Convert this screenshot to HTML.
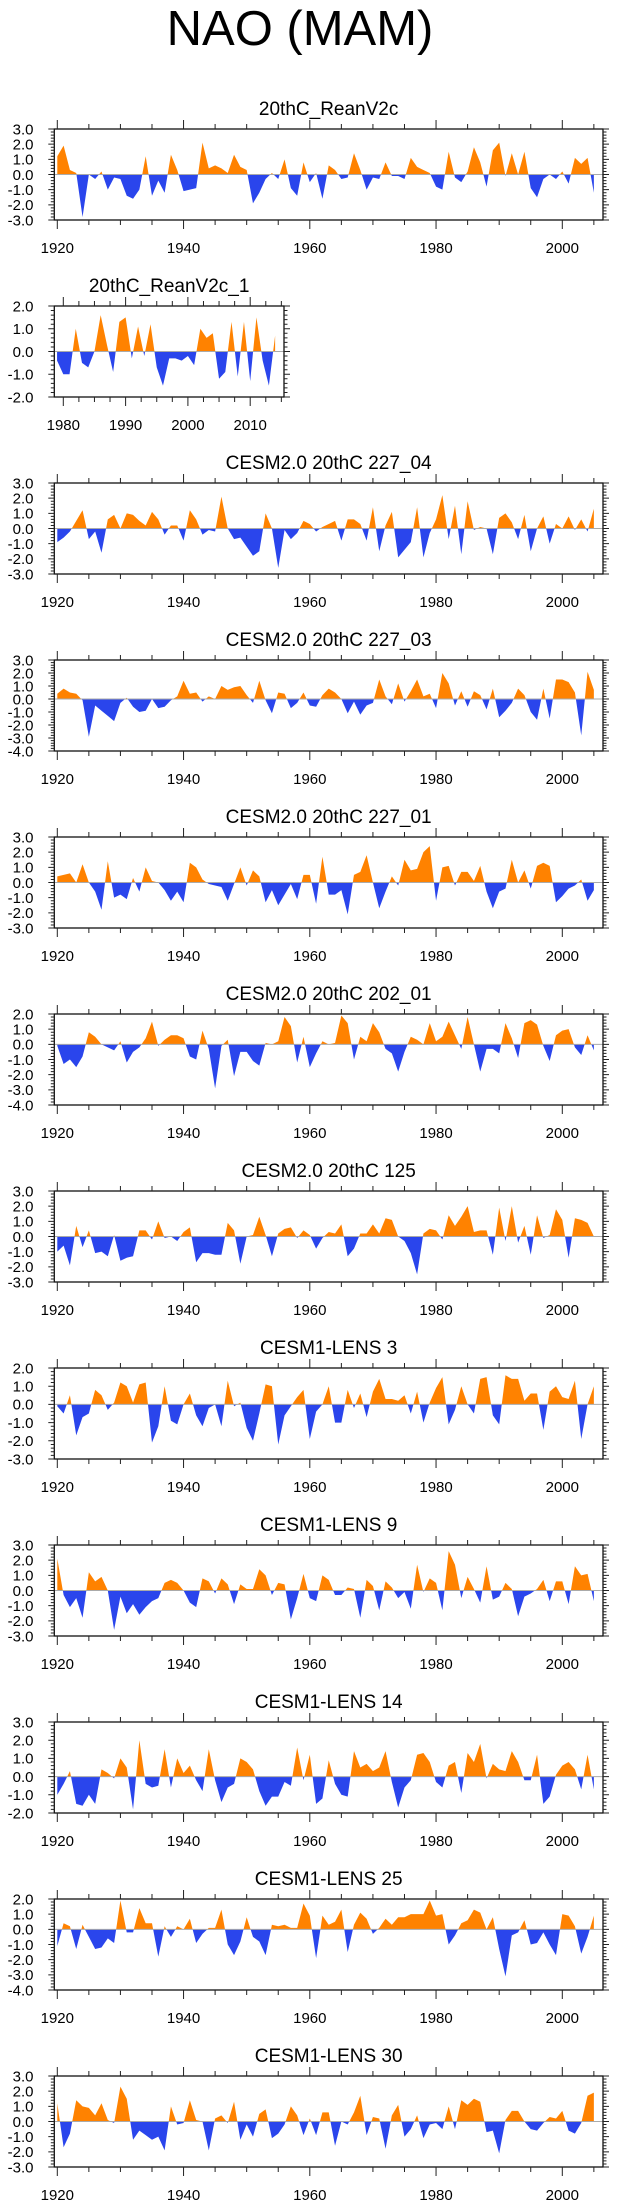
<!DOCTYPE html>
<html><head><meta charset="utf-8">
<style>
html,body{margin:0;padding:0;background:#fff;}
svg{display:block;font-family:"Liberation Sans",Arial,sans-serif;}
</style></head>
<body>
<svg id="chart" width="623" height="2209" viewBox="0 0 623 2209" xmlns="http://www.w3.org/2000/svg">
<text x="300" y="45" font-size="49" text-anchor="middle">NAO (MAM)</text>
</svg>
<script>
const startYearMain = 1920;
const startYearRean1 = 1979;
const seriesRean = [1.2,1.9,0.3,0.1,-2.8,0.0,-0.3,0.2,-1.0,-0.2,-0.3,-1.4,-1.6,-1.0,1.2,-1.4,-0.4,-1.2,1.3,0.3,-1.1,-1.0,-0.9,2.1,0.4,0.6,0.4,0.1,1.3,0.5,0.3,-1.9,-1.2,-0.3,0.1,-0.3,1.0,-0.9,-1.4,0.8,-0.5,0.1,-1.6,0.6,0.3,-0.3,-0.2,1.4,0.3,-1.0,-0.2,-0.3,0.8,-0.1,-0.1,-0.3,1.1,0.5,0.3,0.1,-0.8,-1.0,1.5,-0.2,-0.5,0.2,1.8,0.8,-0.8,1.6,2.1,-0.1,1.4,0.0,1.5,-0.9,-1.5,-0.3,0.0,-0.3,0.2,-0.6,1.1,0.7,1.1,-1.2];
const seriesRean1 = [-0.4,-1.0,-1.0,1.0,-0.5,-0.7,0.0,1.6,0.3,-0.9,1.3,1.5,-0.3,1.1,-0.2,1.2,-0.7,-1.5,-0.3,-0.3,-0.4,-0.2,-0.6,1.0,0.6,0.8,-1.2,-0.9,1.3,-1.1,1.3,-1.3,1.5,-0.4,-1.5,0.7];
const series227_04 = [-0.9,-0.6,-0.2,0.5,1.2,-0.7,-0.2,-1.6,0.6,0.9,0.0,1.0,0.9,0.5,0.2,1.1,0.6,-0.4,0.2,0.2,-0.8,1.2,0.6,-0.4,-0.1,-0.2,2.1,0.0,-0.7,-0.6,-1.2,-1.8,-1.5,1.0,0.0,-2.6,-0.1,-0.7,-0.3,0.5,0.3,-0.2,0.1,0.3,0.5,-0.8,0.6,0.6,0.3,-0.8,1.4,-1.5,0.2,1.1,-1.9,-1.4,-0.9,1.4,-1.9,-0.3,0.6,2.2,-0.7,1.5,-1.7,1.8,-0.1,0.1,0.0,-1.7,0.7,1.0,0.4,-0.7,0.9,-1.5,0.0,0.8,-1.0,0.3,0.0,0.8,-0.1,0.6,-0.2,1.3];
const series227_03 = [0.4,0.8,0.5,0.4,-0.1,-2.9,-0.5,-0.9,-1.3,-1.7,-0.3,0.1,-0.6,-1.0,-0.9,0.0,-0.7,-0.6,-0.1,0.2,1.4,0.4,0.5,-0.2,0.2,0.0,1.0,0.7,0.9,1.0,0.3,-0.3,1.4,-0.1,-1.1,0.5,0.4,-0.7,-0.3,0.5,-0.5,-0.6,0.3,0.8,0.5,0.0,-1.1,-0.2,-1.2,-0.5,-0.3,1.5,0.2,-0.4,1.2,-0.2,0.6,1.5,0.2,0.4,-0.7,2.0,1.2,-0.5,0.6,-0.6,0.6,0.3,-0.8,0.8,-1.4,-0.9,-0.3,0.8,0.3,-1.0,-1.6,0.8,-1.5,1.5,1.5,1.3,0.5,-2.8,2.1,0.7];
const series227_01 = [0.4,0.5,0.6,0.0,1.2,0.0,-0.6,-1.8,1.4,-1.0,-0.8,-1.1,0.3,-0.6,1.0,0.1,0.0,-0.5,-1.2,-0.6,-1.3,1.3,1.0,0.2,-0.1,-0.2,-0.3,-1.2,-0.1,1.0,-0.2,0.8,0.4,-1.3,-0.5,-1.5,-0.8,-0.1,-1.1,0.5,0.5,-1.4,1.7,-0.8,-0.8,-0.5,-2.1,0.5,0.7,1.8,0.0,-1.7,-0.6,0.4,-0.2,1.5,0.8,0.9,2.0,2.4,-1.2,1.0,1.1,-0.2,0.7,0.7,0.1,1.1,-0.6,-1.7,-0.6,-0.4,1.5,0.0,0.8,-0.4,1.1,1.3,1.1,-1.3,-0.9,-0.4,-0.2,0.2,-1.2,-0.5];
const series202_01 = [-0.1,-1.3,-1.0,-1.5,-0.8,0.8,0.5,0.0,-0.2,-0.4,0.2,-1.2,-0.5,-0.2,0.4,1.5,-0.1,0.3,0.6,0.6,0.4,-0.8,-1.0,0.9,-0.3,-2.9,-0.1,0.3,-2.1,-0.5,-0.5,-1.1,-1.4,0.1,0.0,0.2,1.8,1.2,-1.2,0.5,-1.5,-0.6,0.2,0.0,0.1,1.9,1.4,-1.0,0.5,0.2,1.4,0.8,-0.3,-0.6,-1.8,-0.5,0.5,0.3,0.0,1.4,0.2,0.5,1.5,0.6,-0.3,1.8,0.0,-1.8,-0.3,-0.3,-0.6,1.4,0.4,-0.9,1.4,1.6,1.3,-0.1,-1.1,0.6,0.9,1.0,-0.2,-0.7,0.6,-0.4];
const series125 = [-1.0,-0.6,-1.9,0.7,-0.7,0.4,-1.1,-1.0,-1.3,0.1,-1.6,-1.4,-1.3,0.4,0.4,-0.2,1.0,-0.1,0.0,-0.3,0.3,0.6,-1.7,-1.1,-1.1,-1.2,-1.2,0.9,0.4,-1.8,0.0,0.1,1.3,0.1,-1.3,0.2,0.5,0.6,-0.1,0.4,0.1,-0.8,-0.1,0.3,0.2,0.8,-1.3,-0.8,0.2,0.2,0.8,0.2,1.2,1.1,0.0,-0.3,-1.1,-2.5,0.2,0.5,0.4,-0.2,1.4,0.7,1.3,2.0,0.3,0.4,0.4,-1.2,1.9,-0.3,2.0,-0.4,0.7,-1.2,1.4,-0.1,0.1,1.8,1.1,-1.4,1.2,1.1,0.9,0.0];
const seriesLens3 = [-0.1,-0.5,0.5,-1.7,-0.7,-0.5,0.8,0.5,-0.3,0.1,1.2,1.0,0.1,1.1,1.2,-2.1,-1.2,1.0,-0.9,-1.1,0.0,0.6,-0.6,-1.2,-0.2,0.0,-1.2,1.3,-0.1,0.1,-1.3,-2.0,-0.5,1.1,1.0,-2.2,-0.6,-0.1,0.4,0.8,-1.9,-0.4,0.0,1.0,-1.0,-1.0,0.8,-0.2,0.6,-0.7,0.7,1.4,0.3,0.3,0.2,0.5,-0.5,0.7,-1.0,0.1,0.9,1.5,-1.1,-0.3,1.0,0.0,-0.5,1.4,1.5,-0.6,-1.1,1.6,1.4,1.4,0.2,0.6,0.6,-1.4,0.7,1.0,0.4,0.3,1.3,-1.9,0.0,1.0];
const seriesLens9 = [2.1,-0.3,-1.1,-0.5,-1.8,1.2,0.6,0.9,0.0,-2.6,-0.4,-1.5,-0.9,-1.6,-1.1,-0.7,-0.5,0.5,0.7,0.5,0.0,-0.8,-1.1,0.8,0.6,-0.2,0.8,0.4,-0.9,0.4,0.1,0.1,1.4,1.0,-0.3,0.5,0.4,-1.9,-0.5,1.1,-0.5,-0.7,1.0,0.7,-0.3,-0.3,0.2,0.1,-1.8,0.7,0.3,-1.3,0.6,0.2,-0.5,-0.1,-1.2,1.7,-0.1,0.8,0.5,-1.3,2.6,1.7,-0.5,0.9,0.1,-0.8,1.6,-0.6,-0.4,0.5,0.1,-1.7,-0.4,-0.2,0.1,0.7,-0.7,0.6,0.6,-0.9,1.6,1.0,1.1,-0.7];
const seriesLens14 = [-1.0,-0.4,0.3,-1.5,-1.6,-1.0,-1.5,0.4,0.2,-0.1,1.0,0.5,-1.8,2.0,-0.4,-0.6,-0.5,1.5,-0.6,1.0,0.2,0.6,-0.2,-0.8,1.5,-0.2,-1.4,-0.6,-0.4,1.0,0.8,0.4,-0.8,-1.6,-1.1,-1.1,-0.3,-0.5,1.6,-0.2,1.2,-1.5,-1.2,0.9,-0.4,-1.0,-1.1,1.4,0.5,0.7,0.3,0.5,1.4,-0.3,-1.7,-0.6,-0.2,1.2,1.3,0.8,-0.3,-0.6,0.6,0.8,-0.9,1.3,0.8,1.8,-0.1,0.7,0.4,0.3,1.4,0.8,-0.2,-0.2,1.2,-1.5,-1.1,0.1,0.6,0.8,0.4,-0.7,1.2,-0.7];
const seriesLens25 = [-1.1,0.4,0.2,-1.3,0.3,-0.5,-1.3,-1.2,-0.6,-0.9,1.9,-0.2,-0.2,1.4,0.4,0.4,-1.8,0.2,-0.5,0.2,0.0,0.7,-0.9,-0.3,0.1,0.1,1.3,-1.0,-1.7,-0.8,0.8,-0.5,-0.8,-1.7,0.3,0.2,0.3,0.1,0.1,1.7,0.9,-1.9,0.9,0.3,0.5,1.3,-1.5,0.3,1.1,0.7,-0.3,0.1,0.7,0.3,0.8,0.8,1.0,1.0,1.0,1.9,0.9,1.0,-1.0,-0.4,0.4,0.6,1.3,1.1,0.0,0.8,-1.3,-3.1,-0.4,-0.2,0.6,-1.0,-0.9,-0.2,-1.0,-1.7,1.0,0.9,0.2,-1.6,-0.5,0.9];
const seriesLens30 = [1.2,-1.7,-0.8,1.4,1.0,0.9,0.4,1.2,0.1,-0.1,2.3,1.5,-1.2,-0.6,-0.9,-1.2,-1.0,-1.9,1.0,-0.2,-0.1,1.4,0.1,0.0,-1.9,0.2,0.4,-0.1,1.3,-1.2,-0.2,-1.0,0.5,0.8,-1.1,-0.8,-0.2,1.0,0.4,-0.9,0.2,-0.9,0.6,0.6,-1.6,0.0,-0.2,0.6,1.7,-0.9,0.3,0.2,-1.8,0.4,1.1,-1.0,-0.5,0.4,-1.1,-0.2,-0.1,-0.5,1.0,-0.5,1.4,1.1,1.5,1.3,-0.7,-0.6,-2.1,0.1,0.7,0.7,0.0,-0.5,-0.6,-0.1,0.3,0.2,0.7,-0.6,-0.8,-0.1,1.7,1.9];
const xTickLabelsMain = [1920,1940,1960,1980,2000];
const xTickLabelsRean1 = [1980,1990,2000,2010];

const NS = "http://www.w3.org/2000/svg";
const svg = document.getElementById('chart');
function mk(tag, attrs, parent){const e=document.createElementNS(NS,tag);for(const k in attrs)e.setAttribute(k,attrs[k]);(parent||svg).appendChild(e);return e;}

const panels = [
 {name:'20thC_ReanV2c',data:seriesRean,start:startYearMain,ymin:-3,ymax:3,small:false},
 {name:'20thC_ReanV2c_1',data:seriesRean1,start:startYearRean1,ymin:-2,ymax:2,small:true},
 {name:'CESM2.0 20thC 227_04',data:series227_04,start:startYearMain,ymin:-3,ymax:3},
 {name:'CESM2.0 20thC 227_03',data:series227_03,start:startYearMain,ymin:-4,ymax:3},
 {name:'CESM2.0 20thC 227_01',data:series227_01,start:startYearMain,ymin:-3,ymax:3},
 {name:'CESM2.0 20thC 202_01',data:series202_01,start:startYearMain,ymin:-4,ymax:2},
 {name:'CESM2.0 20thC 125',data:series125,start:startYearMain,ymin:-3,ymax:3},
 {name:'CESM1-LENS 3',data:seriesLens3,start:startYearMain,ymin:-3,ymax:2},
 {name:'CESM1-LENS 9',data:seriesLens9,start:startYearMain,ymin:-3,ymax:3},
 {name:'CESM1-LENS 14',data:seriesLens14,start:startYearMain,ymin:-2,ymax:3},
 {name:'CESM1-LENS 25',data:seriesLens25,start:startYearMain,ymin:-4,ymax:2},
 {name:'CESM1-LENS 30',data:seriesLens30,start:startYearMain,ymin:-3,ymax:3}
];

panels.forEach((p,i)=>{
  const top = 129 + 177*i, H = 91, bottom = top+H;
  const left = 54.3;
  const right = p.small ? 284 : 603;
  const y0 = p.small ? 1980 : 1920, x0 = p.small ? 63.3 : 57.3, ppy = p.small ? 6.23 : 6.3125;
  const xs = yr => x0 + ppy*(yr-y0);
  const ys = v => top + (p.ymax - v)/(p.ymax-p.ymin)*H;
  const slug = p.name.toLowerCase().replace(/[^a-z0-9]+/g,'-');
  const g = mk('g',{});
  
  
  const t = mk('text',{x:(left+right)/2,y:top-14,'font-size':19,'text-anchor':'middle'},g);
  
  
  t.textContent = p.name;
  // build points with zero crossings
  const pts=[];
  for(let k=0;k<p.data.length;k++){
    const v=p.data[k], yr=p.start+k;
    if(k>0){const pv=p.data[k-1]; if((pv>0&&v<0)||(pv<0&&v>0)){const f=pv/(pv-v);pts.push([yr-1+f,0]);}}
    pts.push([yr,v]);
  }
  const first=pts[0][0], last=pts[pts.length-1][0];
  function poly(fn,color,nm){
    let d='M'+xs(first).toFixed(2)+','+ys(0).toFixed(2);
    pts.forEach(q=>{d+='L'+xs(q[0]).toFixed(2)+','+ys(fn(q[1])).toFixed(2);});
    d+='L'+xs(last).toFixed(2)+','+ys(0).toFixed(2)+'Z';
    const e=mk('path',{d:d,fill:color,stroke:'none'},g);
    
    
  }
  poly(v=>Math.max(v,0),'#ff8200','positive-area');
  poly(v=>Math.min(v,0),'#2a45ec','negative-area');
  const z=mk('line',{x1:left,x2:right,y1:ys(0),y2:ys(0),stroke:'#aaaaaa','stroke-width':1},g);
  
  
  const box=mk('rect',{x:left,y:top,width:right-left,height:H,fill:'none',stroke:'#111','stroke-width':1.3},g);
  
  
  // y ticks
  let tk='';
  for(let v=p.ymin; v<=p.ymax+1e-6; v+=0.2){
    const yy=ys(v).toFixed(2); const major=Math.abs(v-Math.round(v))<1e-6;
    const L=major?6:3.5;
    tk+='M'+left+','+yy+'h'+(-L)+'M'+right+','+yy+'h'+L;
  }
  // x ticks
  const minorStep = p.small?2.5:5;
  const yrs0 = p.small?1977.5:1920, yrs1 = p.small?2015:2005;
  for(let yr=yrs0; yr<=yrs1+1e-6; yr+=minorStep){
    const xx=xs(yr); if(xx<left-0.5||xx>right+0.5) continue;
    const major = p.small ? (Math.abs(yr%10)<1e-6) : (yr%20===0);
    const L=major?9:5;
    tk+='M'+xx.toFixed(2)+','+top+'v'+(-L)+'M'+xx.toFixed(2)+','+bottom+'v'+L;
  }
  const te=mk('path',{d:tk,stroke:'#222','stroke-width':1,fill:'none'},g);
  
  
  for(let v=p.ymin; v<=p.ymax; v++){
    const lt=mk('text',{x:33.5,y:ys(v)+5.3,'font-size':15,'text-anchor':'end'},g);
    
    
    lt.textContent=v.toFixed(1);
  }
  (p.small?xTickLabelsRean1:xTickLabelsMain).forEach(yr=>{
    const lt=mk('text',{x:xs(yr),y:bottom+33,'font-size':15,'text-anchor':'middle'},g);
    
    
    lt.textContent=yr;
  });
});
</script>
</body></html>
